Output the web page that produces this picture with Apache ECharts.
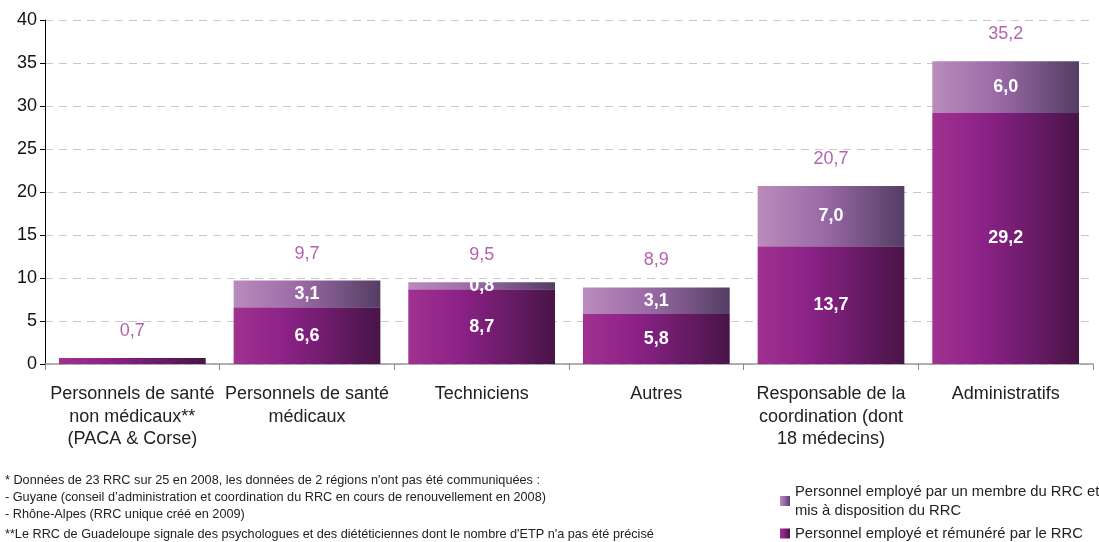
<!DOCTYPE html>
<html>
<head>
<meta charset="utf-8">
<script src="https://cdn.jsdelivr.net/npm/echarts@6/dist/echarts.min.js"></script>
<style>
  html, body { margin: 0; padding: 0; background: #fff; }
  #chart { width: 1099px; height: 542px; }
</style>
</head>
<body>
<div id="chart"></div>
<script>
// catégories de personnel
var categories = [
  'Personnels de santé\nnon médicaux**\n(PACA & Corse)',
  'Personnels de santé\nmédicaux',
  'Techniciens',
  'Autres',
  'Responsable de la\ncoordination (dont\n18 médecins)',
  'Administratifs'
];
var seriesNames = [
  'Personnel employé et rémunéré par le RRC',
  'Personnel employé par un membre du RRC et\nmis à disposition du RRC'
];
var remunere = [0.7, 6.6, 8.7, 5.8, 13.7, 29.2];
var misADispo = [0, 3.1, 0.8, 3.1, 7.0, 6.0];
var totals = [0.7, 9.7, 9.5, 8.9, 20.7, 35.2];
var yTicks = [0, 5, 10, 15, 20, 25, 30, 35, 40];

var notes = [
  '* Données de 23 RRC sur 25 en 2008, les données de 2 régions n\'ont pas été communiquées :',
  '- Guyane (conseil d\u2019administration et coordination du RRC en cours de renouvellement en 2008)',
  '- Rhône-Alpes (RRC unique créé en 2009)',
  '**Le RRC de Guadeloupe signale des psychologues et des diététiciennes dont le nombre d\'ETP n\'a pas été précisé'
];

var gradDark = new echarts.graphic.LinearGradient(0, 0, 1, 0, [
  { offset: 0, color: '#a0318f' },
  { offset: 0.35, color: '#8c2288' },
  { offset: 1, color: '#481447' }
]);
var gradLight = new echarts.graphic.LinearGradient(0, 0, 1, 0, [
  { offset: 0, color: '#ba8bbc' },
  { offset: 0.45, color: '#9a6aa6' },
  { offset: 1, color: '#533e63' }
]);

function fmt(v) { return v.toFixed(1).replace('.', ','); }

var legendText = { fontSize: 14.8, color: '#222', lineHeight: 19 };

var chart = echarts.init(document.getElementById('chart'));
chart.setOption({
  animation: false,
  textStyle: { fontFamily: 'Liberation Sans, Arial, sans-serif' },
  grid: { left: 45, right: 6, top: 20, bottom: 178 },
  legend: [
    {
      left: 775, top: 477, itemWidth: 10, itemHeight: 10, itemGap: 4, icon: 'rect',
      data: [seriesNames[1]], textStyle: legendText
    },
    {
      left: 775, top: 519, itemWidth: 10, itemHeight: 10, itemGap: 4, icon: 'rect',
      data: [seriesNames[0]], textStyle: legendText
    }
  ],
  xAxis: {
    type: 'category',
    data: categories,
    axisLine: { lineStyle: { color: '#999', width: 1.5 } },
    axisTick: { show: true, length: 6, lineStyle: { color: '#888' } },
    axisLabel: { fontSize: 18, color: '#222', lineHeight: 22.5, margin: 19, interval: 0 }
  },
  yAxis: {
    type: 'value',
    min: 0,
    max: 40,
    interval: 5,
    axisLine: { show: true, lineStyle: { color: '#000' } },
    axisTick: { show: true, length: 5, lineStyle: { color: '#000' } },
    axisLabel: { fontSize: 18, color: '#111', margin: 8,
      formatter: function (v) { return yTicks.indexOf(v) >= 0 ? String(v) : ''; } },
    splitLine: { lineStyle: { color: '#c8c8c8', type: [8, 6] } }
  },
  series: [
    {
      name: seriesNames[0],
      type: 'bar',
      stack: 'etp',
      barCategoryGap: '16%',
      data: remunere,
      itemStyle: { color: gradDark },
      label: {
        show: true, position: 'inside', color: '#fff', fontWeight: 'bold', fontSize: 18,
        formatter: function (p) { return p.dataIndex === 0 ? '' : fmt(p.value); }
      }
    },
    {
      name: seriesNames[1],
      type: 'bar',
      stack: 'etp',
      data: misADispo,
      itemStyle: { color: gradLight },
      label: {
        show: true, position: 'inside', color: '#fff', fontWeight: 'bold', fontSize: 18,
        formatter: function (p) { return p.value ? fmt(p.value) : ''; }
      }
    },
    {
      name: 'total',
      type: 'scatter',
      data: totals,
      symbolSize: 0,
      silent: true,
      label: {
        show: true, position: 'top', distance: 18, color: '#a2399a', fontSize: 18,
        formatter: function (p) { return fmt(p.value); }
      }
    }
  ],
  graphic: notes.map(function (t, i) {
    return {
      type: 'text',
      left: 5,
      top: [474, 491, 508, 528][i],
      style: { text: t, fontSize: 12.7, fill: '#222', fontFamily: 'Liberation Sans, sans-serif' }
    };
  })
});
</script>
</body>
</html>
